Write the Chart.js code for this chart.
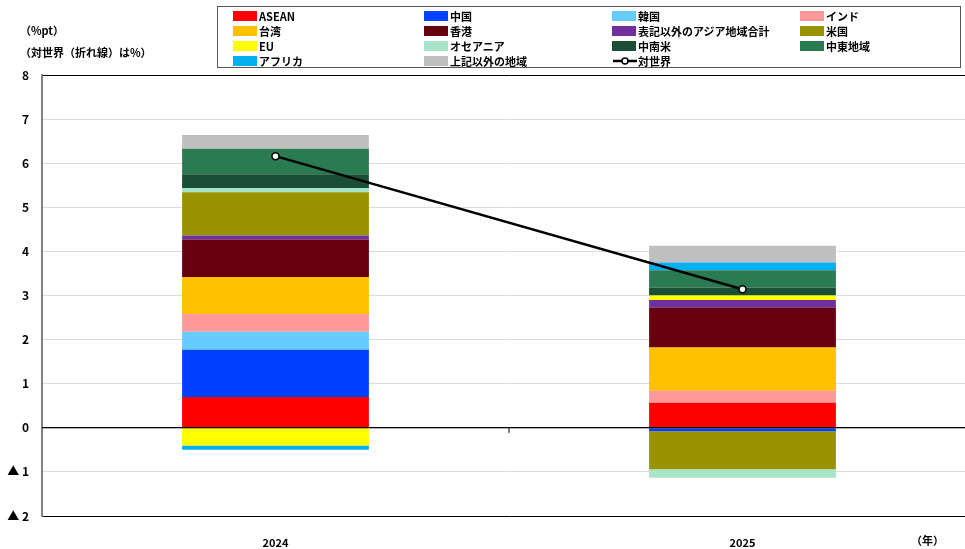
<!DOCTYPE html>
<html>
<head>
<meta charset="utf-8">
<script src="https://cdn.jsdelivr.net/npm/chart.js@4"></script>
<style>
  body { margin: 0; overflow: hidden; background: #fff; font-family: "Noto Sans CJK JP", sans-serif; }
  #wrap { position: relative; width: 985px; height: 549px; }
  .note { position: absolute; font-size: 11px; font-weight: bold; color: #000; white-space: nowrap; }
  #legend { position: absolute; left: 217px; top: 6px; width: 744px; height: 62px; border: 1.5px solid #555; box-sizing: border-box; }
  .lg { position: absolute; font-size: 11px; font-weight: bold; line-height: 14px; white-space: nowrap; }
  .sw { position: absolute; width: 24px; height: 10px; }
</style>
</head>
<body>
<div id="wrap">
  <canvas id="chart" width="985" height="549"></canvas>
  <div class="note" style="left:20px; top:22px;">（%pt）</div>
  <div class="note" style="left:20px; top:44px;">（対世界（折れ線）は%）</div>
  <div class="note" style="left:911px; top:532px;">（年）</div>
  <div id="legend"></div>
</div>
<script>
// 年
const years = ['2024', '2025'];

// 地域別寄与度 (%pt)
const regionNames = ['ASEAN', '中国', '韓国', 'インド', '台湾', '香港', '表記以外のアジア地域合計', '米国',
                     'EU', 'オセアニア', '中南米', '中東地域', 'アフリカ', '上記以外の地域'];
const regionColors = ['#FF0000', '#0041FF', '#66CCFF', '#FF9999', '#FFC000', '#660010', '#7030A0', '#9A9300',
                      '#FFFF00', '#A8E4C8', '#1B4F35', '#2A7A52', '#00B0F0', '#BFBFBF'];
const asean = [0.70, 0.57];
const china = [1.07, -0.08];
const korea = [0.41, 0.00];
const india = [0.40, 0.27];
const taiwan = [0.84, 0.98];
const hongkong = [0.85, 0.91];
const otherAsia = [0.09, 0.17];
const usa = [0.98, -0.86];
const eu = [-0.40, 0.10];
const oceania = [0.10, -0.19];
const latam = [0.31, 0.18];
const middleEast = [0.58, 0.39];
const africa = [-0.10, 0.18];
const others = [0.31, 0.38];
const regionValues = [asean, china, korea, india, taiwan, hongkong, otherAsia, usa,
                      eu, oceania, latam, middleEast, africa, others];

// 対世界 (%)
const world = [6.16, 3.14];

// y軸目盛
const yMin = -2, yMax = 8;

const datasets = regionNames.map((name, i) => ({
    type: 'bar',
    label: name,
    data: regionValues[i],
    backgroundColor: regionColors[i],
    borderWidth: 0,
    stack: 'regions',
    order: 1,
    barPercentage: 0.4,
    categoryPercentage: 1.0
}));
datasets.push({
    type: 'line',
    label: '対世界',
    data: world,
    borderColor: '#000',
    borderWidth: 2.5,
    pointRadius: 3.5,
    pointBackgroundColor: '#fff',
    pointBorderColor: '#000',
    pointBorderWidth: 1.5,
    stack: 'world',
    order: 0
});

// ゼロ線は棒の上に描く
const zeroLine = {
    id: 'zeroLine',
    afterDatasetsDraw(chart) {
        const { ctx, chartArea, scales } = chart;
        const y0 = scales.y.getPixelForValue(0);
        const xm = (scales.x.getPixelForValue(0) + scales.x.getPixelForValue(1)) / 2;
        ctx.save();
        ctx.strokeStyle = '#000';
        ctx.lineWidth = 1;
        ctx.beginPath();
        ctx.moveTo(chartArea.left, y0);
        ctx.lineTo(chartArea.right, y0);
        ctx.moveTo(xm, y0);
        ctx.lineTo(xm, y0 + 5);
        ctx.stroke();
        ctx.restore();
    }
};

new Chart(document.getElementById('chart').getContext('2d'), {
    data: { labels: years, datasets: datasets },
    plugins: [zeroLine],
    options: {
        responsive: false,
        animation: false,
        layout: { padding: { top: 75, right: 9, left: 0, bottom: 0 } },
        plugins: { legend: { display: false }, tooltip: { enabled: false } },
        scales: {
            x: {
                stacked: true,
                offset: true,
                grid: { display: false },
                border: { display: true, color: '#000', width: 1 },
                ticks: { color: '#000', font: { family: 'Noto Sans CJK JP', size: 11, weight: 'bold' }, padding: 12 },
                afterFit: (s) => { s.height = 33; }
            },
            y: {
                stacked: true,
                min: yMin,
                max: yMax,
                grid: {
                    drawTicks: false,
                    color: (c) => (c.tick && (c.tick.value === yMax || c.tick.value === 0)) ? '#000' : '#dcdcdc',
                    lineWidth: 1
                },
                border: { display: true, color: '#808080', width: 2 },
                ticks: {
                    stepSize: 1,
                    padding: 13,
                    color: '#000',
                    font: { family: 'Noto Sans CJK JP', size: 12, weight: 'bold' },
                    callback: (v) => v < 0 ? '▲ ' + (-v) : String(v)
                },
                afterFit: (s) => { s.width = 42; }
            }
        }
    }
});

// 凡例 (4列)
const legend = document.getElementById('legend');
const colX = [15, 206, 394, 582];
const rowY = [2, 17, 32, 47];
const items = regionNames.map((n, i) => ({ name: n, color: regionColors[i] }));
items.push({ name: '対世界', line: true });
items.forEach((it, i) => {
    const c = i % 4, r = Math.floor(i / 4);
    const x = colX[c], y = rowY[r];
    let sw;
    if (it.line) {
        sw = `<svg style="position:absolute;left:${x}px;top:${y}px" width="26" height="14"><line x1="1" y1="7" x2="25" y2="7" stroke="#000" stroke-width="2.5"/><circle cx="13" cy="7" r="3" fill="#fff" stroke="#000" stroke-width="1.5"/></svg>`;
    } else {
        sw = `<div class="sw" style="left:${x}px;top:${y + 2}px;background:${it.color}"></div>`;
    }
    legend.insertAdjacentHTML('beforeend', sw + `<div class="lg" style="left:${x + 26}px;top:${y}px">${it.name}</div>`);
});
</script>
</body>
</html>
